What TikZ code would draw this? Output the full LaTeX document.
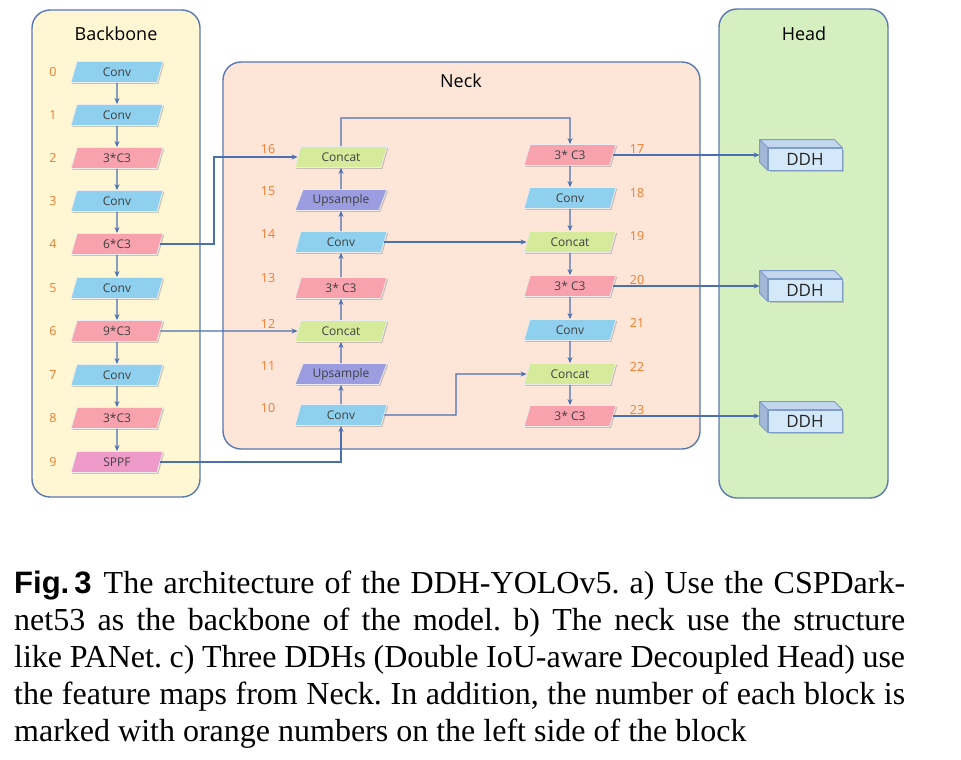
\documentclass[tikz,border=0pt]{standalone}
\usepackage{fontspec}
\setmainfont{Liberation Serif}
\newfontfamily\dfont{Open Sans}
\newfontfamily\capfont{Liberation Serif}
\newfontfamily\figfont{Liberation Sans}
\usetikzlibrary{shapes.geometric,shadows,arrows.meta,calc}
\definecolor{panelc}{HTML}{5A78B2}
\definecolor{bbfill}{HTML}{FFF6D3}
\definecolor{neckfill}{HTML}{FDE5D7}
\definecolor{headfill}{HTML}{D5EFC0}
\definecolor{arrowc}{HTML}{4A6FB3}
\definecolor{numc}{HTML}{EC7E2F}
\definecolor{convc}{HTML}{8ED0EE}
\definecolor{cthree}{HTML}{F8A2AE}
\definecolor{sppfc}{HTML}{EE9BC9}
\definecolor{concatc}{HTML}{D5EB9B}
\definecolor{upsc}{HTML}{9C9CE1}
\definecolor{ddhfront}{HTML}{D3E8F8}
\definecolor{ddhtop}{HTML}{C2D6EE}
\definecolor{ddhside}{HTML}{A3B8D6}
\definecolor{ddhborder}{HTML}{7F9CCB}
\tikzset{
  panel/.style={draw=panelc, line width=1.4pt, rounded corners=18pt},
  title/.style={font=\dfont\fontsize{18}{21}\selectfont, text=black},
  blk/.style={trapezium, trapezium left angle=56, trapezium right angle=124,
    trapezium stretches body, minimum width=92pt, minimum height=21pt,
    inner xsep=2pt, inner ysep=0pt, draw=white!85!gray, line width=0.8pt,
    font=\dfont\fontsize{12}{13}\selectfont, text=black!75,
    drop shadow={shadow xshift=1.3pt, shadow yshift=-1.3pt, opacity=0.45, fill=black!45}},
  conv/.style={blk, fill=convc},
  cthr/.style={blk, fill=cthree},
  sppf/.style={blk, fill=sppfc},
  cat/.style={blk, fill=concatc},
  ups/.style={blk, fill=upsc},
  num/.style={font=\dfont\fontsize{12.5}{14}\selectfont, text=numc},
  arr/.style={draw=arrowc, line width=1.1pt, -{Stealth[length=6pt,width=5pt]}},
  ddh/.style={rectangle, minimum width=74pt, minimum height=22pt, inner sep=0pt,
    fill=ddhfront, draw=ddhborder, line width=0.8pt,
    font=\dfont\fontsize{17}{20}\selectfont, text=black!85,
    drop shadow={shadow xshift=1.5pt, shadow yshift=-1.5pt, opacity=0.4, fill=black!45}},
  face/.style={draw=ddhborder, line width=0.8pt, line join=round},
  capline/.style={anchor=base west, inner sep=0pt, font=\capfont\fontsize{32}{37}\selectfont\frenchspacing}
}
\begin{document}
\begin{tikzpicture}[x=1pt, y=-1pt]
\useasboundingbox (0,0) rectangle (961,760);

% panels
\draw[panel, fill=bbfill] (32,10) rectangle (200,497);
\draw[panel, fill=neckfill] (223,62) rectangle (700,449);
\draw[panel, fill=headfill] (719,9) rectangle (888,498);
\node[title] (tb) at (116,34) {Backbone};
\node[title] (tn) at (461,81) {Neck};
\node[title] (th) at (804,34) {Head};

% backbone
\node[conv] (b0) at (117,72) {Conv};
\node[conv] (b1) at (117,115) {Conv};
\node[cthr] (b2) at (117,158) {3*C3};
\node[conv] (b3) at (117,201) {Conv};
\node[cthr] (b4) at (117,244) {6*C3};
\node[conv] (b5) at (117,288) {Conv};
\node[cthr] (b6) at (117,331) {9*C3};
\node[conv] (b7) at (117,375) {Conv};
\node[cthr] (b8) at (117,418) {3*C3};
\node[sppf] (b9) at (117,462) {SPPF};
\foreach \i/\yy in {0/72,1/115,2/158,3/201,4/244,5/288,6/331,7/375,8/418,9/462}
  \node[num] (nb\i) at (53,\yy) {\i};
\foreach \a/\b in {0/1,1/2,2/3,3/4,4/5,5/6,6/7,7/8,8/9}
  \draw[arr] (b\a) -- (b\b);

% neck left column
\node[conv] (n10) at (341,415) {Conv};
\node[ups]  (n11) at (341,374) {Upsample};
\node[cat]  (n12) at (341,331) {Concat};
\node[cthr] (n13) at (341,288) {3* C3};
\node[conv] (n14) at (341,242) {Conv};
\node[ups]  (n15) at (341,200) {Upsample};
\node[cat]  (n16) at (341,157) {Concat};
\foreach \i/\yy in {10/408,11/366,12/324,13/278,14/234,15/191,16/149}
  \node[num] (nl\i) at (268,\yy) {\i};
\foreach \a/\b in {10/11,11/12,12/13,13/14,14/15,15/16}
  \draw[arr] (n\a) -- (n\b);

% neck right column
\node[cthr] (n17) at (570,155) {3* C3};
\node[conv] (n18) at (570,198) {Conv};
\node[cat]  (n19) at (570,242) {Concat};
\node[cthr] (n20) at (570,286) {3* C3};
\node[conv] (n21) at (570,330) {Conv};
\node[cat]  (n22) at (570,374) {Concat};
\node[cthr] (n23) at (570,416) {3* C3};
\foreach \i/\yy in {17/149,18/193,19/236,20/280,21/323,22/367,23/410}
  \node[num] (nr\i) at (637,\yy) {\i};
\foreach \a/\b in {17/18,18/19,19/20,20/21,21/22,22/23}
  \draw[arr] (n\a) -- (n\b);

% cross connections
\coordinate (k4) at (214,244);
\draw[arr] (b4.east) -- (k4) |- (n16.west);
\draw[arr] (b6.east) -- (n12.west);
\draw[arr] (b9.east) -| (n10.south);
\coordinate (k16) at (341,118);
\draw[arr] (n16.north) -- (k16) -| (n17.north);
\draw[arr] (n14.east) -- (n19.west);
\coordinate (k10) at (456,415);
\draw[arr] (n10.east) -- (k10) |- (n22.west);

% head
\foreach \i/\yy in {1/159,2/290,3/421}{
  \node[ddh] (d\i) at (805,\yy) {DDH};
  \draw[face, fill=ddhtop] (d\i.north west) -- ++(-8,-8) -- ($(d\i.north east)+(-8,-8)$) -- (d\i.north east) -- cycle;
  \draw[face, fill=ddhside] (d\i.north west) -- ++(-8,-8) -- ($(d\i.south west)+(-8,-8)$) -- (d\i.south west) -- cycle;
  \coordinate (din\i) at ($(d\i.west)+(-8,-4)$);
}
\draw[arr] (n17.east) -- (n17.east -| din1);
\draw[arr] (n20.east) -- (n20.east -| din2);
\draw[arr] (n23.east) -- (n23.east -| din3);

% caption
\node[capline] (c1) at (14,593) {\makebox[891pt][s]{{\figfont\bfseries\fontsize{31}{37}\selectfont Fig.\,3}\hspace{12pt}The architecture of the DDH-YOLOv5. a) Use the CSPDark-}};
\node[capline] (c2) at (14,630) {\makebox[891pt][s]{net53 as the backbone of the model. b) The neck use the structure}};
\node[capline] (c3) at (14,667) {\makebox[891pt][s]{like PANet. c) Three DDHs (Double IoU-aware Decoupled Head) use}};
\node[capline] (c4) at (14,704) {\makebox[891pt][s]{the feature maps from Neck. In addition, the number of each block is}};
\node[capline] (c5) at (14,741) {marked with orange numbers on the left side of the block};
\end{tikzpicture}
\end{document}
